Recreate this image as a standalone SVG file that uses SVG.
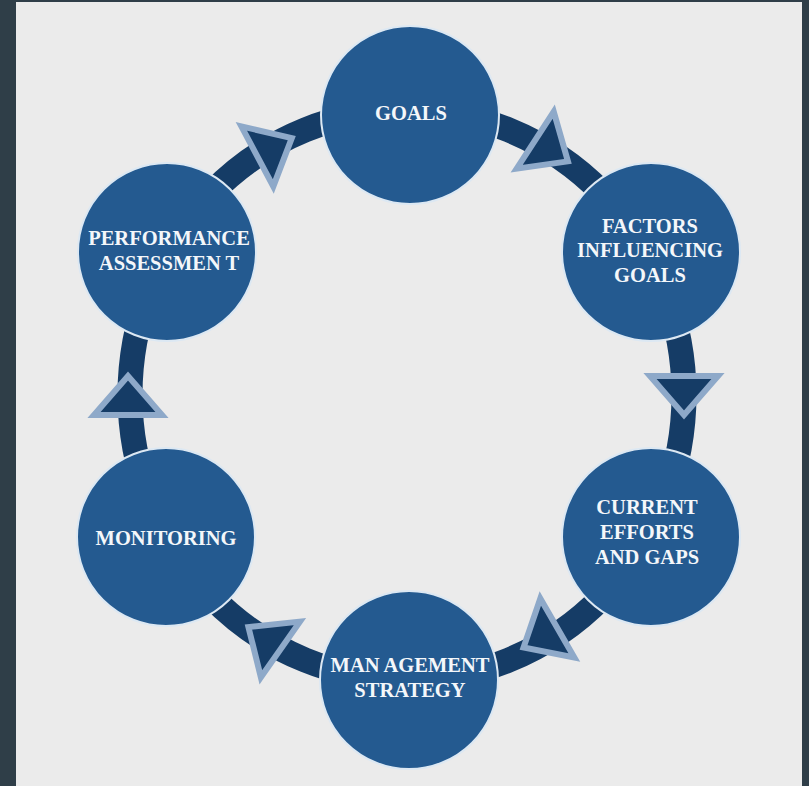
<svg xmlns="http://www.w3.org/2000/svg" width="809" height="786" viewBox="0 0 809 786">
  <defs>
    <style>
      .node { fill: #245a90; stroke: #dce8f3; stroke-width: 2; }
      .lbl { font-family: "Liberation Serif", "Times New Roman", serif; font-weight: bold; font-size: 20.5px; fill: #f4f7fa; text-anchor: middle; }
      .ring { fill: none; stroke: #153c66; stroke-width: 25; }
      .tri { fill: #153c66; stroke: #8ea9c9; stroke-width: 6; stroke-linejoin: miter; }
    </style>
    <polygon id="arrow" class="tri" points="-20,-34 -20,34 19,0"/>
  </defs>
  <rect x="0" y="0" width="809" height="786" fill="#2f3e48"/>
  <rect x="16" y="2" width="786" height="784" fill="#ebebeb"/>

  <g id="connectors">
    <ellipse class="ring" cx="407" cy="395" rx="277" ry="285"/>
    <use href="#arrow" transform="translate(552,151) rotate(33)"/>
    <use href="#arrow" transform="translate(684,396) rotate(90)"/>
    <use href="#arrow" transform="translate(540,638) rotate(150)"/>
    <use href="#arrow" transform="translate(264,638) rotate(215)"/>
    <use href="#arrow" transform="translate(128,395) rotate(-90)"/>
    <use href="#arrow" transform="translate(275,147) rotate(-28)"/>
  </g>

  <g id="goals">
    <circle class="node" cx="410" cy="115" r="89"/>
    <text class="lbl" x="411" y="120">GOALS</text>
  </g>
  <g id="factors">
    <circle class="node" cx="651" cy="252" r="89"/>
    <text class="lbl" x="650" y="233">FACTORS</text>
    <text class="lbl" x="650" y="257">INFLUENCING</text>
    <text class="lbl" x="650" y="282">GOALS</text>
  </g>
  <g id="current">
    <circle class="node" cx="651" cy="537" r="89"/>
    <text class="lbl" x="647" y="514">CURRENT</text>
    <text class="lbl" x="647" y="539">EFFORTS</text>
    <text class="lbl" x="647" y="564">AND GAPS</text>
  </g>
  <g id="management">
    <circle class="node" cx="409" cy="680" r="89"/>
    <text class="lbl" x="410" y="672">MAN AGEMENT</text>
    <text class="lbl" x="410" y="697">STRATEGY</text>
  </g>
  <g id="monitoring">
    <circle class="node" cx="166" cy="537" r="89"/>
    <text class="lbl" x="166" y="545">MONITORING</text>
  </g>
  <g id="performance">
    <circle class="node" cx="167" cy="252" r="89"/>
    <text class="lbl" x="169" y="245">PERFORMANCE</text>
    <text class="lbl" x="169" y="270">ASSESSMEN T</text>
  </g>
</svg>
